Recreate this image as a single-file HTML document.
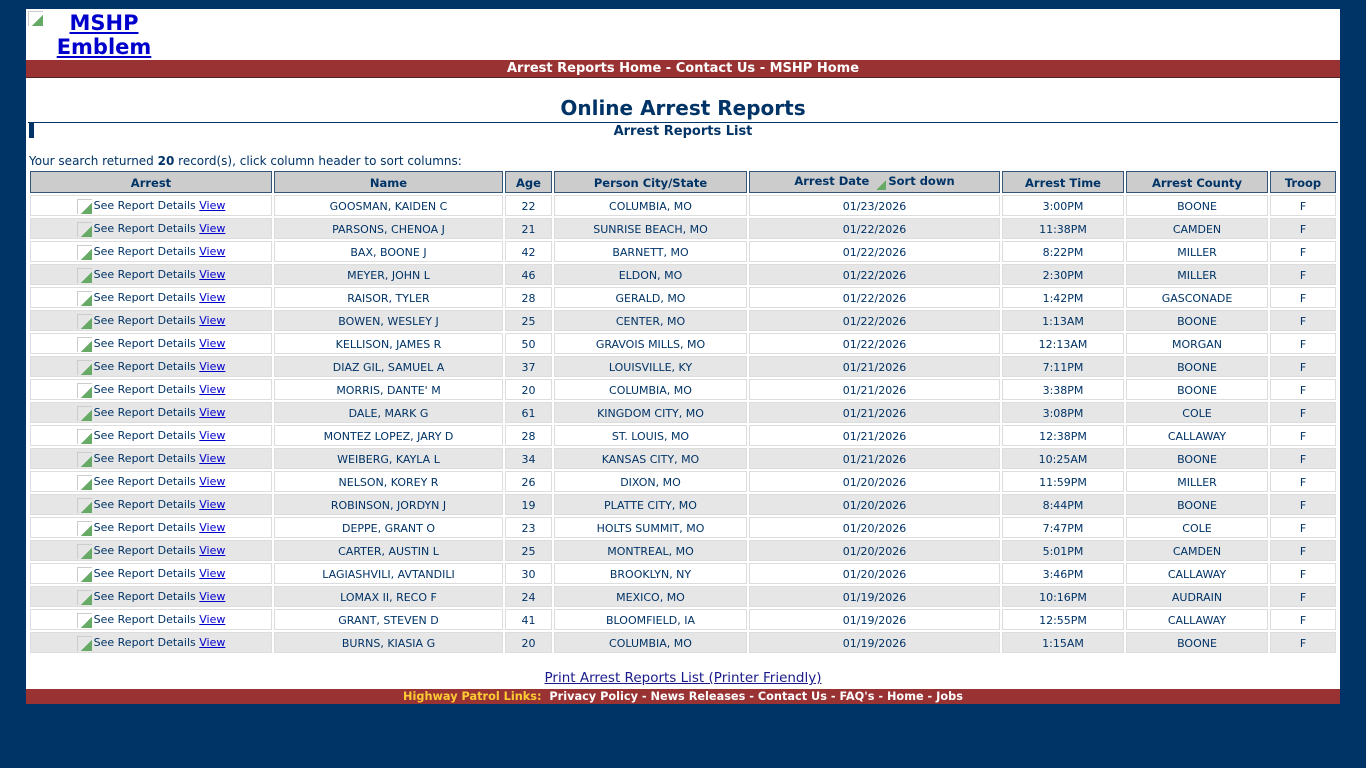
<!DOCTYPE html>
<html><head><meta charset="utf-8"><style>
body{margin:0;background:#003366;font-family:Tahoma,"DejaVu Sans","Liberation Sans",sans-serif;width:1366px;height:768px;position:relative;overflow:hidden}
.panel{position:absolute;left:26px;top:9px;width:1314px;height:680px;background:#fff}
.logo{position:absolute;left:34px;top:11px;width:140px;text-align:center;font:bold 21px/24px "DejaVu Sans",sans-serif;color:#0000cc;text-decoration:underline}
.limg{position:absolute;left:28px;top:11px;width:14px;height:14px;border-left:1px solid #ccc;border-top:1px solid #ccc;background:linear-gradient(135deg,transparent 60%,#6a6 60%)}
.red{position:absolute;left:26px;width:1314px;background:#993333;color:#fff;font:bold 13px/17px "DejaVu Sans",sans-serif;text-align:center}
h1{position:absolute;left:26px;width:1314px;top:95px;margin:0;text-align:center;font:bold 20px/26px "DejaVu Sans",sans-serif;color:#003366}
.sub{position:absolute;left:26px;width:1314px;top:124px;text-align:center;font:bold 13px/15px "DejaVu Sans",sans-serif;color:#003366}
.hr{position:absolute;left:28px;top:122px;width:1310px;height:1px;background:#003366}
.blk{position:absolute;left:29px;top:123px;width:5px;height:15px;background:#003366}
.srch{position:absolute;left:29px;top:154px;font:12px/15px "DejaVu Sans",sans-serif;color:#003366}
table{position:absolute;left:28px;top:169px;border-collapse:separate;border-spacing:2px;table-layout:fixed;font:11px "DejaVu Sans",sans-serif;color:#003366}
th{background:#cccccc;border:1px solid #335577;height:22px;padding:1px 0 0;font-weight:bold;font-size:11.5px;box-sizing:border-box}
td{border:1px solid #dddddd;height:21px;padding:2px 0 0;text-align:center;box-sizing:border-box;background:#fff}
tr.a td{background:#e6e6e6}
td a{color:#0000cc;text-decoration:underline}
.ic{display:inline-block;width:14px;height:14px;border-left:1px solid #ccc;border-top:1px solid #ccc;vertical-align:-5px;margin-right:2px;background:linear-gradient(135deg,transparent 60%,#6a6 60%)}
.print{position:absolute;left:26px;width:1314px;top:670px;text-align:center;font:13.5px "DejaVu Sans",sans-serif;color:#1a1a8c;text-decoration:underline}
</style></head><body>
<div class="panel"></div>
<div class="limg"></div>
<div class="logo">MSHP Emblem</div>
<div class="red" style="top:60px;height:17px;border-bottom:1px solid #552222">Arrest Reports Home - Contact Us - MSHP Home</div>
<h1>Online Arrest Reports</h1>
<div class="hr"></div><div class="blk"></div>
<div class="sub">Arrest Reports List</div>
<div class="srch">Your search returned <b>20</b> record(s), click column header to sort columns:</div>
<table>
<colgroup><col style="width:242px"><col style="width:229px"><col style="width:47px"><col style="width:193px"><col style="width:251px"><col style="width:122px"><col style="width:142px"><col style="width:66px"></colgroup>
<tr><th>Arrest</th><th>Name</th><th>Age</th><th>Person City/State</th><th style="vertical-align:top;padding-top:2px">Arrest Date <span class="ic" style="width:12px;height:12px"></span>Sort down</th><th>Arrest Time</th><th>Arrest County</th><th>Troop</th></tr>
<tr><td><span class="ic"></span>See Report Details <a>View</a></td><td>GOOSMAN, KAIDEN C</td><td>22</td><td>COLUMBIA, MO</td><td>01/23/2026</td><td>3:00PM</td><td>BOONE</td><td>F</td></tr>
<tr class="a"><td><span class="ic"></span>See Report Details <a>View</a></td><td>PARSONS, CHENOA J</td><td>21</td><td>SUNRISE BEACH, MO</td><td>01/22/2026</td><td>11:38PM</td><td>CAMDEN</td><td>F</td></tr>
<tr><td><span class="ic"></span>See Report Details <a>View</a></td><td>BAX, BOONE J</td><td>42</td><td>BARNETT, MO</td><td>01/22/2026</td><td>8:22PM</td><td>MILLER</td><td>F</td></tr>
<tr class="a"><td><span class="ic"></span>See Report Details <a>View</a></td><td>MEYER, JOHN L</td><td>46</td><td>ELDON, MO</td><td>01/22/2026</td><td>2:30PM</td><td>MILLER</td><td>F</td></tr>
<tr><td><span class="ic"></span>See Report Details <a>View</a></td><td>RAISOR, TYLER</td><td>28</td><td>GERALD, MO</td><td>01/22/2026</td><td>1:42PM</td><td>GASCONADE</td><td>F</td></tr>
<tr class="a"><td><span class="ic"></span>See Report Details <a>View</a></td><td>BOWEN, WESLEY J</td><td>25</td><td>CENTER, MO</td><td>01/22/2026</td><td>1:13AM</td><td>BOONE</td><td>F</td></tr>
<tr><td><span class="ic"></span>See Report Details <a>View</a></td><td>KELLISON, JAMES R</td><td>50</td><td>GRAVOIS MILLS, MO</td><td>01/22/2026</td><td>12:13AM</td><td>MORGAN</td><td>F</td></tr>
<tr class="a"><td><span class="ic"></span>See Report Details <a>View</a></td><td>DIAZ GIL, SAMUEL A</td><td>37</td><td>LOUISVILLE, KY</td><td>01/21/2026</td><td>7:11PM</td><td>BOONE</td><td>F</td></tr>
<tr><td><span class="ic"></span>See Report Details <a>View</a></td><td>MORRIS, DANTE' M</td><td>20</td><td>COLUMBIA, MO</td><td>01/21/2026</td><td>3:38PM</td><td>BOONE</td><td>F</td></tr>
<tr class="a"><td><span class="ic"></span>See Report Details <a>View</a></td><td>DALE, MARK G</td><td>61</td><td>KINGDOM CITY, MO</td><td>01/21/2026</td><td>3:08PM</td><td>COLE</td><td>F</td></tr>
<tr><td><span class="ic"></span>See Report Details <a>View</a></td><td>MONTEZ LOPEZ, JARY D</td><td>28</td><td>ST. LOUIS, MO</td><td>01/21/2026</td><td>12:38PM</td><td>CALLAWAY</td><td>F</td></tr>
<tr class="a"><td><span class="ic"></span>See Report Details <a>View</a></td><td>WEIBERG, KAYLA L</td><td>34</td><td>KANSAS CITY, MO</td><td>01/21/2026</td><td>10:25AM</td><td>BOONE</td><td>F</td></tr>
<tr><td><span class="ic"></span>See Report Details <a>View</a></td><td>NELSON, KOREY R</td><td>26</td><td>DIXON, MO</td><td>01/20/2026</td><td>11:59PM</td><td>MILLER</td><td>F</td></tr>
<tr class="a"><td><span class="ic"></span>See Report Details <a>View</a></td><td>ROBINSON, JORDYN J</td><td>19</td><td>PLATTE CITY, MO</td><td>01/20/2026</td><td>8:44PM</td><td>BOONE</td><td>F</td></tr>
<tr><td><span class="ic"></span>See Report Details <a>View</a></td><td>DEPPE, GRANT O</td><td>23</td><td>HOLTS SUMMIT, MO</td><td>01/20/2026</td><td>7:47PM</td><td>COLE</td><td>F</td></tr>
<tr class="a"><td><span class="ic"></span>See Report Details <a>View</a></td><td>CARTER, AUSTIN L</td><td>25</td><td>MONTREAL, MO</td><td>01/20/2026</td><td>5:01PM</td><td>CAMDEN</td><td>F</td></tr>
<tr><td><span class="ic"></span>See Report Details <a>View</a></td><td>LAGIASHVILI, AVTANDILI</td><td>30</td><td>BROOKLYN, NY</td><td>01/20/2026</td><td>3:46PM</td><td>CALLAWAY</td><td>F</td></tr>
<tr class="a"><td><span class="ic"></span>See Report Details <a>View</a></td><td>LOMAX II, RECO F</td><td>24</td><td>MEXICO, MO</td><td>01/19/2026</td><td>10:16PM</td><td>AUDRAIN</td><td>F</td></tr>
<tr><td><span class="ic"></span>See Report Details <a>View</a></td><td>GRANT, STEVEN D</td><td>41</td><td>BLOOMFIELD, IA</td><td>01/19/2026</td><td>12:55PM</td><td>CALLAWAY</td><td>F</td></tr>
<tr class="a"><td><span class="ic"></span>See Report Details <a>View</a></td><td>BURNS, KIASIA G</td><td>20</td><td>COLUMBIA, MO</td><td>01/19/2026</td><td>1:15AM</td><td>BOONE</td><td>F</td></tr>
</table>
<div class="print">Print Arrest Reports List (Printer Friendly)</div>
<div class="red" style="top:689px;height:15px;font-size:11.3px;line-height:15px"><span style="color:#ffcc33">Highway Patrol Links:</span>&nbsp; Privacy Policy - News Releases - Contact Us - FAQ's - Home - Jobs</div>
</body></html>
